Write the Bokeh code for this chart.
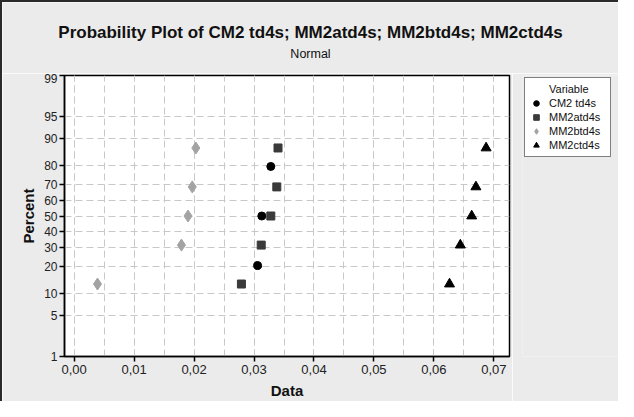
from statistics import NormalDist
from bokeh.plotting import figure
from bokeh.layouts import column, row
from bokeh.models import (Range1d, FixedTicker, CustomJSTickFormatter, Legend, LegendItem, Label)
from bokeh.embed import file_html
from bokeh.resources import INLINE

# ---- data ----
series_names = ["CM2 td4s", "MM2atd4s", "MM2btd4s", "MM2ctd4s"]
cm2_x = [0.0306, 0.0313, 0.0328]
cm2_pct = [20.6, 50.0, 79.4]
mm2a_x = [0.0279, 0.0312, 0.0328, 0.0338, 0.0340]
mm2b_x = [0.0039, 0.0179, 0.0190, 0.0197, 0.0203]
mm2c_x = [0.0626, 0.0644, 0.0663, 0.0670, 0.0687]
pct5 = [13.0, 31.5, 50.0, 68.5, 87.0]
y_tick_pct = [1, 5, 10, 20, 30, 40, 50, 60, 70, 80, 90, 95, 99]
x_ticks = [0.00, 0.01, 0.02, 0.03, 0.04, 0.05, 0.06, 0.07]
x_minor = [0.000, 0.005, 0.010, 0.015, 0.020, 0.025, 0.030, 0.035,
           0.040, 0.045, 0.050, 0.055, 0.060, 0.065, 0.070]
title_text = "Probability Plot of CM2 td4s; MM2atd4s; MM2btd4s; MM2ctd4s"
subtitle_text = "Normal"
legend_title = "Variable"

marker_styles = [("circle", 8, "black"), ("square", 8, "#3a3a3a"),
                 ("diamond", 12, "#a3a3a3"), ("triangle", 10, "black")]

nd = NormalDist()
def z(pcts):
    return [nd.inv_cdf(v / 100.0) for v in pcts]

FONT = "Liberation Sans"
GRID = "#c8c8c8"
BG = "#ebebeb"

series = [(cm2_x, cm2_pct), (mm2a_x, pct5), (mm2b_x, pct5), (mm2c_x, pct5)]

# ---------- title strip ----------
tfig = figure(width=616, height=71, output_backend="svg", toolbar_location=None,
              x_axis_type=None, y_axis_type=None, x_range=Range1d(0, 1), y_range=Range1d(0, 1),
              min_border=0)
tfig.border_fill_color = BG
tfig.background_fill_color = BG
tfig.outline_line_color = None
tfig.add_layout(Label(x=308, y=41, x_units="screen", y_units="screen", text=title_text,
                      text_font=FONT, text_font_size="17px", text_font_style="bold",
                      text_align="center", text_baseline="middle", text_color="#111111"))
tfig.add_layout(Label(x=308, y=20, x_units="screen", y_units="screen", text=subtitle_text,
                      text_font=FONT, text_font_size="12.5px",
                      text_align="center", text_baseline="middle", text_color="#111111"))

# ---------- main plot ----------
p = figure(width=510, height=328, output_backend="svg", toolbar_location=None,
           x_range=Range1d(-0.0016, 0.0726),
           y_range=Range1d(nd.inv_cdf(0.01), nd.inv_cdf(0.99)),
           min_border_left=62, min_border_right=3, min_border_top=2, min_border_bottom=45)
p.border_fill_color = BG
p.background_fill_color = "white"
p.outline_line_color = "black"
p.outline_line_width = 1.5

p.xaxis.ticker = FixedTicker(ticks=x_ticks, minor_ticks=x_minor)
p.xaxis.formatter = CustomJSTickFormatter(code="return tick.toFixed(2).replace('.', ',');")
p.yaxis.ticker = FixedTicker(ticks=z(y_tick_pct))
p.yaxis.formatter = CustomJSTickFormatter(args=dict(tk=z(y_tick_pct), lb=[str(v) for v in y_tick_pct]), code="""
let best = 0, bd = 1e9;
for (let i = 0; i < tk.length; i++) { const d = Math.abs(tk[i] - tick); if (d < bd) { bd = d; best = i; } }
return lb[best];
""")
for ax in (p.xaxis, p.yaxis):
    ax.axis_line_color = "black"
    ax.axis_line_width = 1.5
    ax.major_tick_line_color = "black"
    ax.major_tick_line_width = 1.5
    ax.major_tick_in = 0
    ax.major_tick_out = 5
    ax.minor_tick_line_color = None
    ax.major_label_text_font = FONT
    ax.major_label_text_color = "#222222"
    ax.axis_label_text_font = FONT
    ax.axis_label_text_font_size = "15px"
    ax.axis_label_text_font_style = "bold"
    ax.axis_label_text_color = "#111111"
p.xaxis.major_label_text_font_size = "13px"
p.yaxis.major_label_text_font_size = "12px"
p.xaxis.axis_label = "Data"
p.yaxis.axis_label = "Percent"
p.xaxis.major_label_standoff = 3
p.xaxis.axis_label_standoff = 5
p.yaxis.major_label_standoff = 2
p.yaxis.axis_label_standoff = 4

p.xgrid.ticker = FixedTicker(ticks=x_ticks, minor_ticks=x_minor)
p.xgrid.grid_line_color = GRID
p.xgrid.grid_line_dash = "7 4"
p.xgrid.minor_grid_line_color = GRID
p.xgrid.minor_grid_line_dash = "7 4"
p.ygrid.ticker = FixedTicker(ticks=z(y_tick_pct))
p.ygrid.grid_line_color = GRID
p.ygrid.grid_line_dash = "7 4"

for (xs, ps), (m, s, c) in zip(series, marker_styles):
    p.scatter(xs, z(ps), marker=m, size=s, color=c)

# ---------- legend panel (same series, drawn outside its visible range) ----------
lfig = figure(width=106, height=328, output_backend="svg", toolbar_location=None,
              x_axis_type=None, y_axis_type=None, x_range=Range1d(0, 1), y_range=Range1d(10, 11),
              min_border=0, min_border_left=10)
lfig.border_fill_color = BG
lfig.background_fill_color = BG
lfig.outline_line_color = None
lrs = [lfig.scatter(xs, z(ps), marker=m, size=s, color=c)
       for (xs, ps), (m, s, c) in zip(series, marker_styles)]
items = [LegendItem(label=legend_title, renderers=[])]
items += [LegendItem(label=n, renderers=[r]) for n, r in zip(series_names, lrs)]
legend = Legend(items=items, location="top_left", margin=2,
                label_text_font=FONT, label_text_font_size="11px", label_text_color="#111111",
                padding=4, spacing=0, glyph_width=14, glyph_height=14,
                label_height=12, label_width=57, label_standoff=6,
                border_line_color="black", border_line_width=1,
                background_fill_color="white", background_fill_alpha=1)
lfig.add_layout(legend)

page = column(tfig, row(p, lfig, spacing=0), spacing=0)
page.styles = {"border-top": "2px solid #2a2a2a", "border-left": "2px solid #2a2a2a"}

open("out.html", "w").write(file_html(page, INLINE))
